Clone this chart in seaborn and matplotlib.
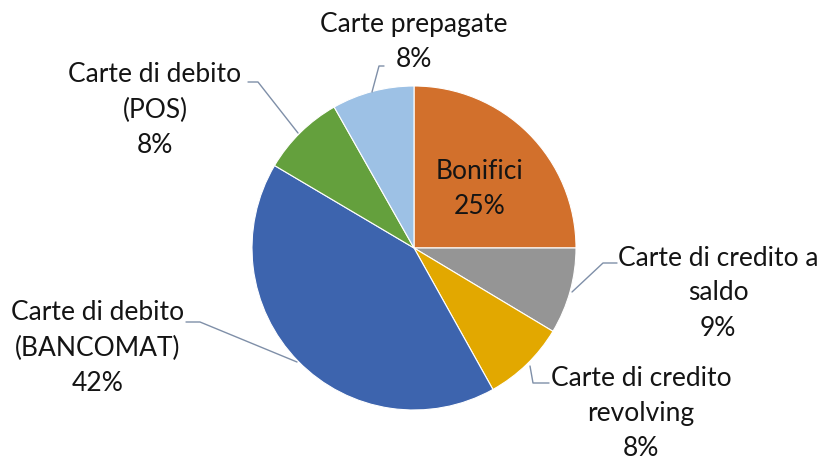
import matplotlib
matplotlib.use("Agg")
import matplotlib.pyplot as plt
import seaborn as sns

categories = ["Bonifici", "Carte di credito a\nsaldo", "Carte di credito\nrevolving",
              "Carte di debito\n(BANCOMAT)", "Carte di debito\n(POS)", "Carte prepagate"]
values = [25.0, 8.6, 8.3, 41.6, 8.3, 8.2]
colors = ["#D2702C", "#959595", "#E2A800", "#3D64AE", "#64A03D", "#9DC1E5"]

sns.set_theme(style="white")
plt.rcParams["font.family"] = ["Lato", "DejaVu Sans"]

W, H = 824, 459
fig = plt.figure(figsize=(W / 100, H / 100), dpi=100)
ax = fig.add_axes([0, 0, 1, 1])

cx, cy, r = 414, H - 248, 162
ax.pie(values, colors=colors, startangle=90, counterclock=False,
       center=(cx, cy), radius=r,
       wedgeprops=dict(edgecolor="white", linewidth=0.8))
ax.set_xlim(0, W)
ax.set_ylim(0, H)
ax.set_aspect("equal")
ax.axis("off")

pct = [f"{round(v):d}%" for v in values]
fs = 19
ls = 1.5
tc = "#141414"
lc = "#7F8FA8"

def Y(y):
    return H - y

# Bonifici (inside)
ax.text(480, Y(189), f"{categories[0]}\n{pct[0]}", ha="center", va="center",
        fontsize=fs, color=tc, linespacing=ls)
# Carte di credito a saldo
ax.text(718, Y(293), f"{categories[1]}\n{pct[1]}", ha="center", va="center",
        fontsize=fs, color=tc, linespacing=ls)
ax.plot([617, 603, 572], [Y(263), Y(263), Y(292)], color=lc, lw=1)
# Carte di credito revolving
ax.text(641, Y(414), f"{categories[2]}\n{pct[2]}", ha="center", va="center",
        fontsize=fs, color=tc, linespacing=ls)
ax.plot([549, 533, 530], [Y(383), Y(383), Y(366)], color=lc, lw=1)
# Carte di debito (BANCOMAT)
ax.text(98, Y(348), f"{categories[3]}\n{pct[3]}", ha="center", va="center",
        fontsize=fs, color=tc, linespacing=ls)
ax.plot([186, 200, 297], [Y(322), Y(322), Y(362)], color=lc, lw=1)
# Carte di debito (POS)
ax.text(155, Y(110), f"{categories[4]}\n{pct[4]}", ha="center", va="center",
        fontsize=fs, color=tc, linespacing=ls)
ax.plot([248, 258, 298], [Y(82), Y(82), Y(133)], color=lc, lw=1)
# Carte prepagate
ax.text(414, Y(42), f"{categories[5]}\n{pct[5]}", ha="center", va="center",
        fontsize=fs, color=tc, linespacing=ls)
ax.plot([384, 379, 372], [Y(66), Y(66), Y(92)], color=lc, lw=1)

fig.savefig("out.png", dpi=100)
